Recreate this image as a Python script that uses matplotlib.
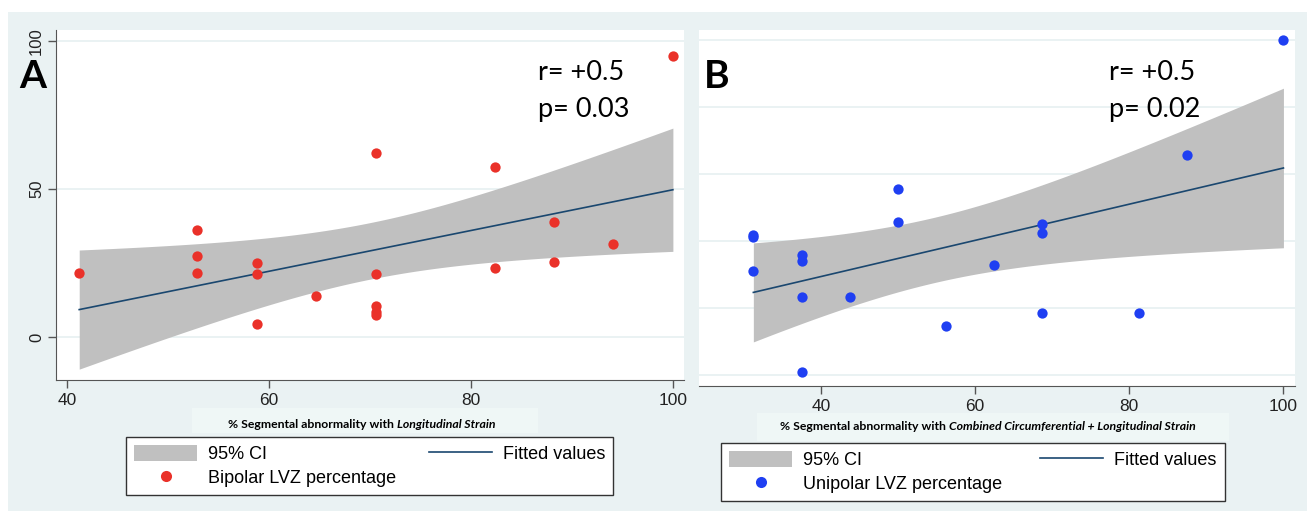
import matplotlib.pyplot as plt
import numpy as np
from matplotlib.lines import Line2D
from matplotlib.patches import Patch, Rectangle

plt.rcParams["font.family"] = ["Liberation Sans", "DejaVu Sans"]

W, H = 1307, 511

# panel A: bipolar LVZ vs longitudinal strain
xa = [41.2, 52.9, 52.9, 52.9, 58.8, 58.8, 58.8, 64.7, 70.6, 70.6, 70.6,
      70.6, 70.6, 82.4, 82.4, 88.2, 88.2, 94.1, 100]
ya = [21.7, 36.0, 27.4, 21.6, 24.9, 21.2, 4.3, 13.8, 62.2, 21.2, 10.5,
      8.5, 7.4, 57.4, 23.4, 38.9, 25.3, 31.3, 94.8]

# panel B: unipolar LVZ vs combined circumferential + longitudinal strain
xb = [31.25, 31.25, 31.25, 37.5, 37.5, 37.5, 37.5, 43.75, 50, 50, 56.25,
      62.5, 68.75, 68.75, 68.75, 81.25, 87.5, 100]
yb = [41.7, 41.0, 31.0, 35.8, 34.0, 23.3, 0.7, 23.3, 55.4, 45.7, 14.5,
      32.7, 44.9, 42.4, 18.3, 18.5, 65.6, 100]

stats_a = ["r= +0.5", "p= 0.03"]
stats_b = ["r= +0.5", "p= 0.02"]
xticks = [40, 60, 80, 100]
yticks_a = [0, 50, 100]
yticks_b = [0, 20, 40, 60, 80, 100]

t_crit = {16: 2.120, 17: 2.110}  # t(0.975, df)

bg = "#eaf2f3"
c_red = "#ea3129"
c_blue = "#1f3ff2"
c_fit = "#1a476f"
c_ci = "#c0c0c0"
c_axis = "#555555"


def fx(x):
    return x / W


def fy(y):
    return 1 - y / H


def lfitci(x, y, npoints=100):
    """linear fit with 95% CI of the mean, like stata lfitci"""
    x = np.asarray(x, float)
    y = np.asarray(y, float)
    n = len(x)
    b, a = np.polyfit(x, y, 1)
    resid = y - (a + b * x)
    s = np.sqrt((resid ** 2).sum() / (n - 2))
    sxx = ((x - x.mean()) ** 2).sum()
    xx = np.linspace(x.min(), x.max(), npoints)
    yy = a + b * xx
    half = t_crit[n - 2] * s * np.sqrt(1 / n + (xx - x.mean()) ** 2 / sxx)
    return xx, yy, yy - half, yy + half


def draw_panel(ax, x, y, color, yticks):
    xx, yy, lo, hi = lfitci(x, y)
    ax.fill_between(xx, lo, hi, color=c_ci, lw=0, zorder=1)
    ax.plot(xx, yy, color=c_fit, lw=1.2, zorder=2)
    ax.scatter(x, y, s=55, color=color, lw=0, zorder=3)

    ax.set_xticks(xticks)
    ax.set_yticks(yticks)
    ax.set_axisbelow(True)
    ax.grid(axis="y", color=bg, lw=1.4)
    for side in ["top", "right"]:
        ax.spines[side].set_visible(False)
    ax.spines["bottom"].set_color(c_axis)
    ax.spines["left"].set_color(c_axis)
    ax.tick_params(colors=c_axis, labelcolor="#222222", labelsize=12.5,
                   length=5.5, width=1, pad=4)


fig = plt.figure(figsize=(W / 100, H / 100), dpi=100, facecolor="white")
kw = {"transform": fig.transFigure, "edgecolor": "none", "zorder": -2}
fig.patches.append(Rectangle((fx(8), 0), 1 - fx(8), fy(12), facecolor=bg, **kw))

# x label backgrounds
kw["zorder"] = -1
fig.patches.append(Rectangle((fx(192), fy(433)), fx(538 - 192), (433 - 408) / H,
                             facecolor="#eff7f6", **kw))
fig.patches.append(Rectangle((fx(757), fy(441)), fx(1229 - 757), (441 - 413) / H,
                             facecolor="#eff7f6", **kw))

axA = fig.add_axes([fx(56), fy(380), fx(684 - 56), (380 - 30) / H])
axB = fig.add_axes([fx(699), fy(386), fx(1295 - 699), (386 - 30) / H])

draw_panel(axA, xa, ya, c_red, yticks_a)
axA.set_xlim(38.9, 101.1)
axA.set_ylim(-14.5, 103.6)
plt.setp(axA.get_yticklabels(), rotation=90, va="center")
axA.tick_params(axis="y", pad=3, labelsize=12)

draw_panel(axB, xb, yb, c_blue, yticks_b)
axB.set_xlim(24.2, 101.5)
axB.set_ylim(-3.4, 103)
axB.spines["left"].set_visible(False)
axB.tick_params(axis="y", length=0, labelleft=False)

# panel letters and stats
fig.text(fx(19), fy(77), "A", fontsize=28, fontweight="bold", family="Lato",
         ha="left", va="center")
fig.text(fx(704), fy(77), "B", fontsize=28, fontweight="bold", family="Lato",
         ha="left", va="center")
for x0, lines in [(538, stats_a), (1109, stats_b)]:
    fig.text(fx(x0), fy(72), lines[0], fontsize=19.5, family="Lato", va="center")
    fig.text(fx(x0), fy(109), lines[1], fontsize=19.5, family="Lato", va="center")

# x axis titles: normal bold + italic bold part
for x0, y0, plain, ital in [
    (228, 424, "% Segmental abnormality with ", "Longitudinal Strain"),
    (780, 426, "% Segmental abnormality with ",
     "Combined Circumferential + Longitudinal Strain"),
]:
    t1 = fig.text(fx(x0), fy(y0), plain, fontsize=8.8, fontweight="bold",
                  family="Lato", va="center")
    fig.add_artist(plt.Annotation(ital, xy=(1, 0.5), xycoords=t1, va="center",
                                  ha="left", fontsize=8.8, fontweight="bold",
                                  style="italic", family="Lato"))

# legends
for x0, y0, color, label, cs in [(126, 437, c_red, "Bipolar LVZ percentage", 1.8),
                                 (721, 443, c_blue, "Unipolar LVZ percentage", 2.1)]:
    handles = [
        Patch(facecolor=c_ci, edgecolor="none"),
        Line2D([], [], ls="none", marker="o", ms=8, mfc=color, mec="none"),
        Line2D([], [], color=c_fit, lw=1.2),
    ]
    labels = ["95% CI", label, "Fitted values"]
    fig.legend(handles, labels, ncol=2, loc="upper left",
               bbox_to_anchor=(fx(x0), fy(y0)), borderaxespad=0,
               fontsize=13, frameon=True, fancybox=False, edgecolor="#333333",
               framealpha=1, handlelength=3.5, handleheight=0.95,
               handletextpad=0.6, columnspacing=cs, labelspacing=0.3,
               borderpad=0.45)

fig.savefig("out.png", dpi=100, facecolor="white")
